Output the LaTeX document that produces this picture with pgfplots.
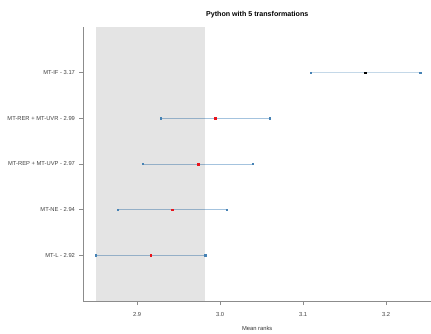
\documentclass[border=0pt]{standalone}
\usepackage{pgfplots}
\pgfplotsset{compat=1.18}
\usepackage{fontspec}
\setmainfont{Liberation Sans}
\definecolor{band}{HTML}{E4E4E4}
\definecolor{seg}{HTML}{4682B4}
\definecolor{segout}{HTML}{A4C3DE}
\definecolor{segin}{HTML}{94AFC7}
\definecolor{segif}{HTML}{C4D8E8}
\definecolor{axgrey}{HTML}{8C8C8C}
\definecolor{meanred}{HTML}{E8141C}
\begin{document}
\begin{tikzpicture}
\begin{axis}[
  at={(0,0)}, anchor=south west,
  scale only axis, width=347.5pt, height=274pt,
  xmin=2.8355, xmax=3.254, ymin=0, ymax=6,
  axis x line*=bottom, axis y line*=left,
  axis line style={axgrey, line width=0.8pt, -},
  xtick={2.9,3.0,3.1,3.2},
  xticklabels={2.9,3.0,3.1,3.2},
  ytick={1,2,3,4,5},
  yticklabels={MT-L - 2.92, MT-NE - 2.94, MT-REP + MT-UVP - 2.97, MT-RER + MT-UVR - 2.99, MT-IF - 3.17},
  tick style={axgrey, line width=0.6pt},
  tick align=outside, major tick length=4pt,
  ticklabel style={font=\fontsize{5.8}{6.5}\selectfont, text=black!75},
  xticklabel style={yshift=-4pt},
  yticklabel style={xshift=-1pt},
  xlabel={Mean ranks},
  xlabel style={font=\fontsize{5.8}{6.5}\selectfont, text=black!80, yshift=-3pt},
  title={Python with 5 transformations},
  title style={font=\bfseries\fontsize{7.1}{8}\selectfont, yshift=-1pt},
  clip=false,
]
\addplot[fill=band, draw=none] coordinates {(2.8506,0) (2.982,0) (2.982,6) (2.8506,6)} -- cycle;
% intervals (split at the band edge 2.982)
\addplot[segin, line width=1pt] coordinates {(2.8506,1) (2.982,1)};
\addplot[segin, line width=1pt] coordinates {(2.8763,2) (2.982,2)};
\addplot[segout, line width=1pt] coordinates {(2.982,2) (3.0076,2)};
\addplot[segin, line width=1pt] coordinates {(2.9072,3) (2.982,3)};
\addplot[segout, line width=1pt] coordinates {(2.982,3) (3.039,3)};
\addplot[segin, line width=1pt] coordinates {(2.9285,4) (2.982,4)};
\addplot[segout, line width=1pt] coordinates {(2.982,4) (3.060,4)};
\addplot[segif, line width=1pt] coordinates {(3.109,5) (3.241,5)};
% endpoints
\addplot[seg, only marks, mark=square*, mark size=0.65pt] coordinates {
(2.8506,1) (2.982,1) (2.8763,2) (3.0076,2) (2.9072,3) (3.039,3) (2.9285,4) (3.060,4) (3.109,5) (3.241,5)};
% means
\addplot[meanred, only marks, mark=square*, mark size=0.9pt] coordinates {
(2.9165,1) (2.942,2) (2.9735,3) (2.9945,4)};
\addplot[black, only marks, mark=square*, mark size=0.9pt] coordinates {(3.175,5)};
\end{axis}
\pgfresetboundingbox
\useasboundingbox (-83.5pt,-32pt) rectangle (347.5pt,301pt);
\end{tikzpicture}
\end{document}
